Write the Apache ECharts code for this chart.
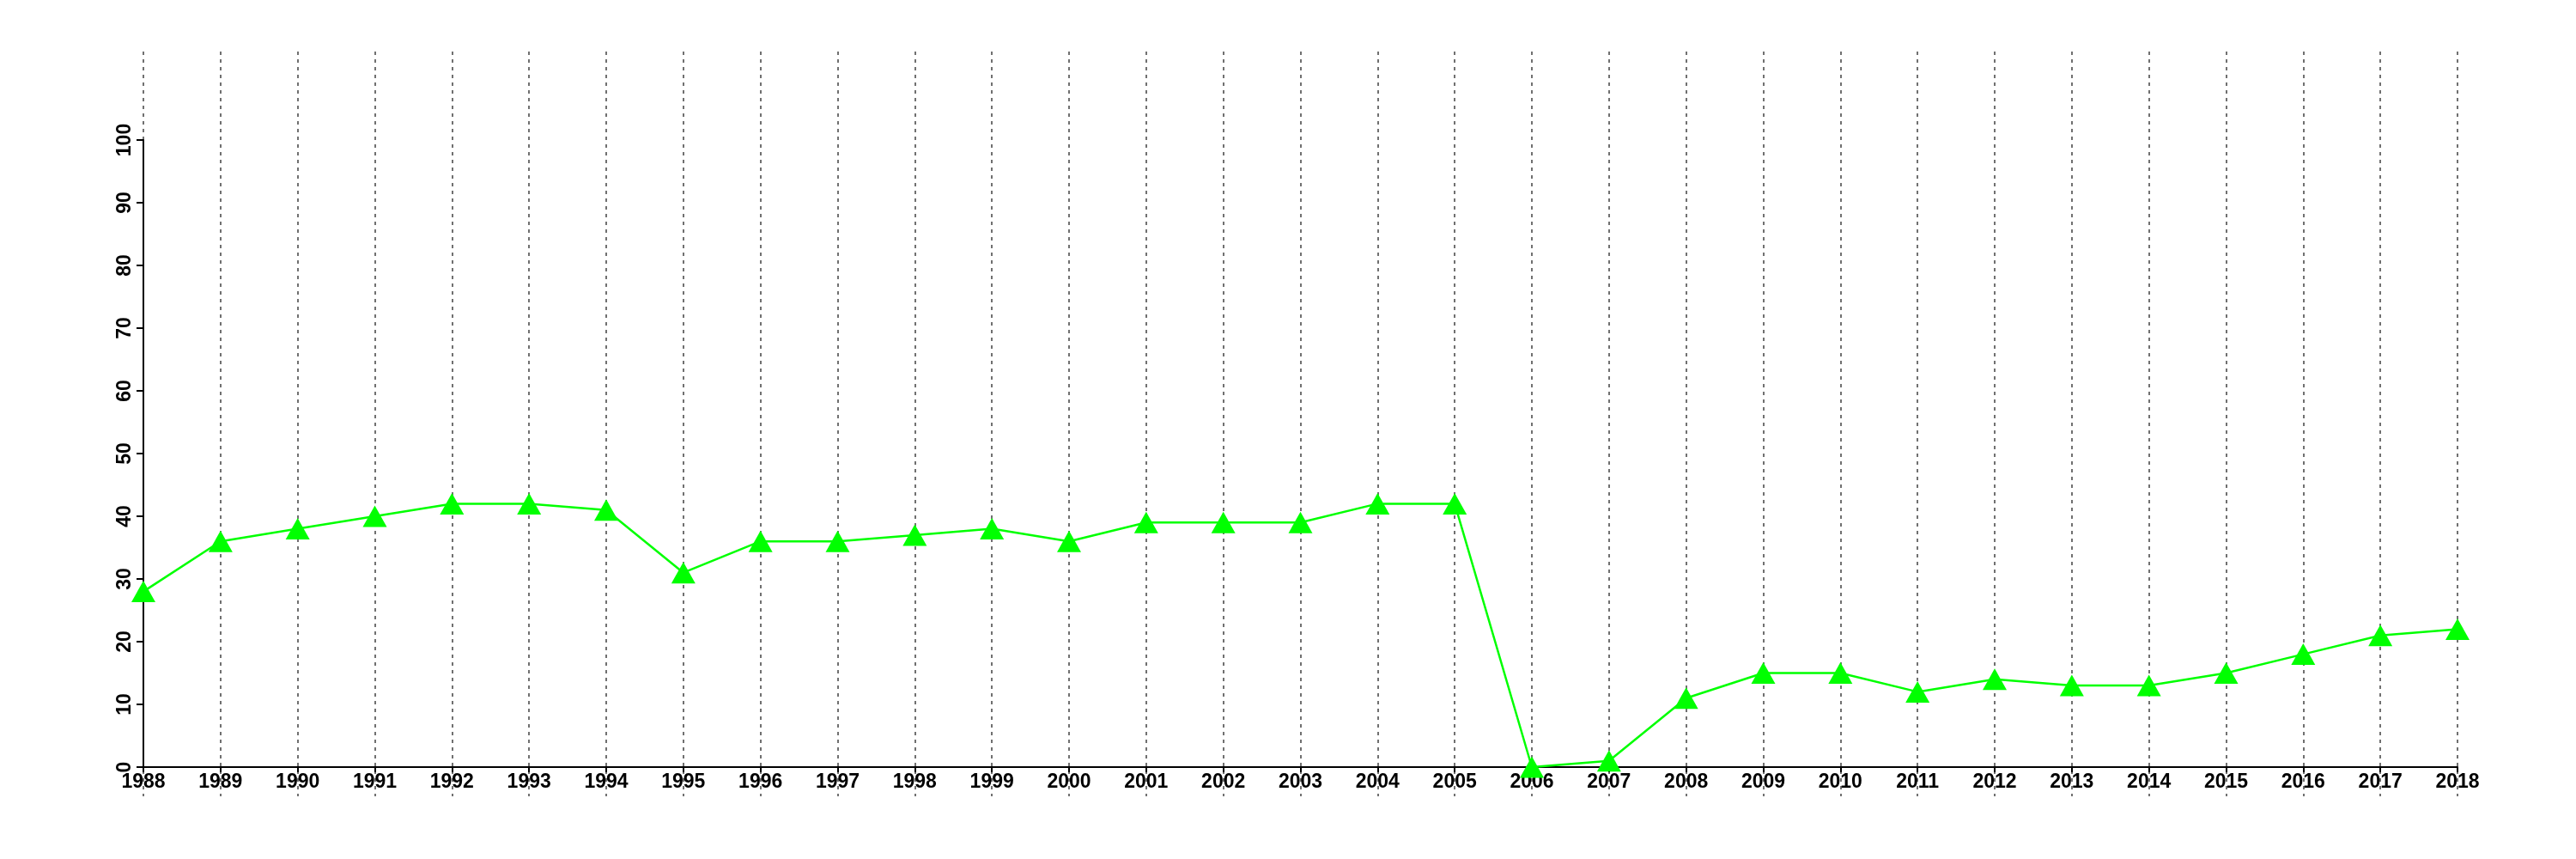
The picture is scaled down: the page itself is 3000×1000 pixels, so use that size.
<!DOCTYPE html>
<html>
<head>
<meta charset="utf-8">
<script src="https://cdn.jsdelivr.net/npm/echarts@6/dist/echarts.min.js"></script>
<style>html,body{margin:0;padding:0;background:#fff}#chart{width:3000px;height:1000px}</style>
</head>
<body>
<div id="chart"></div>
<script>
const years = ['1988','1989','1990','1991','1992','1993','1994','1995','1996','1997','1998','1999','2000','2001','2002','2003','2004','2005','2006','2007','2008','2009','2010','2011','2012','2013','2014','2015','2016','2017','2018'];
const values = [28,36,38,40,42,42,41,31,36,36,37,38,36,39,39,39,42,42,0,1,11,15,15,12,14,13,13,15,18,21,22];
const yTicks = [0,10,20,30,40,50,60,70,80,90,100];

const chart = echarts.init(document.getElementById('chart'), null, {renderer: 'canvas'});
const font = 'Liberation Sans, Arial, Helvetica, sans-serif';
chart.setOption({
  animation: false,
  backgroundColor: '#ffffff',
  grid: [
    {left: 167, right: 138, top: 163, bottom: 107},
    {left: 167, right: 138, top: 60, bottom: 73}
  ],
  xAxis: [
    {
      type: 'category', gridIndex: 0, data: years, boundaryGap: false,
      axisLine: {show: true, lineStyle: {color: '#000', width: 2}},
      axisTick: {show: true, length: 6, lineStyle: {color: '#000', width: 2}},
      axisLabel: {color: '#000', fontSize: 23, fontWeight: 'bold', fontFamily: font, margin: 6, interval: 0},
      splitLine: {show: false}
    },
    {
      type: 'category', gridIndex: 1, data: years, boundaryGap: false,
      axisLine: {show: false}, axisTick: {show: false}, axisLabel: {show: false},
      splitLine: {show: true, interval: 0, lineStyle: {color: '#707070', width: 2, type: [4, 5]}}
    }
  ],
  yAxis: [
    {
      type: 'value', gridIndex: 0, min: 0, max: 100, interval: 10,
      axisLine: {show: true, lineStyle: {color: '#000', width: 2}},
      axisTick: {show: true, length: 8, lineStyle: {color: '#000', width: 2}},
      axisLabel: {color: '#000', fontSize: 23, fontWeight: 'bold', fontFamily: font, rotate: 90, margin: 10,
        formatter: function (v) { return yTicks.indexOf(v) >= 0 ? String(v) : ''; }},
      splitLine: {show: false}
    },
    {
      type: 'value', gridIndex: 1, min: 0, max: 100, show: false,
      splitLine: {show: false}
    }
  ],
  series: [{
    type: 'line', xAxisIndex: 0, yAxisIndex: 0, data: values,
    symbol: 'triangle', symbolSize: [28, 25], showAllSymbol: true,
    lineStyle: {color: '#00ff00', width: 2.5},
    itemStyle: {color: '#00ff00', borderWidth: 0},
    z: 5
  }]
});
</script>
</body>
</html>
